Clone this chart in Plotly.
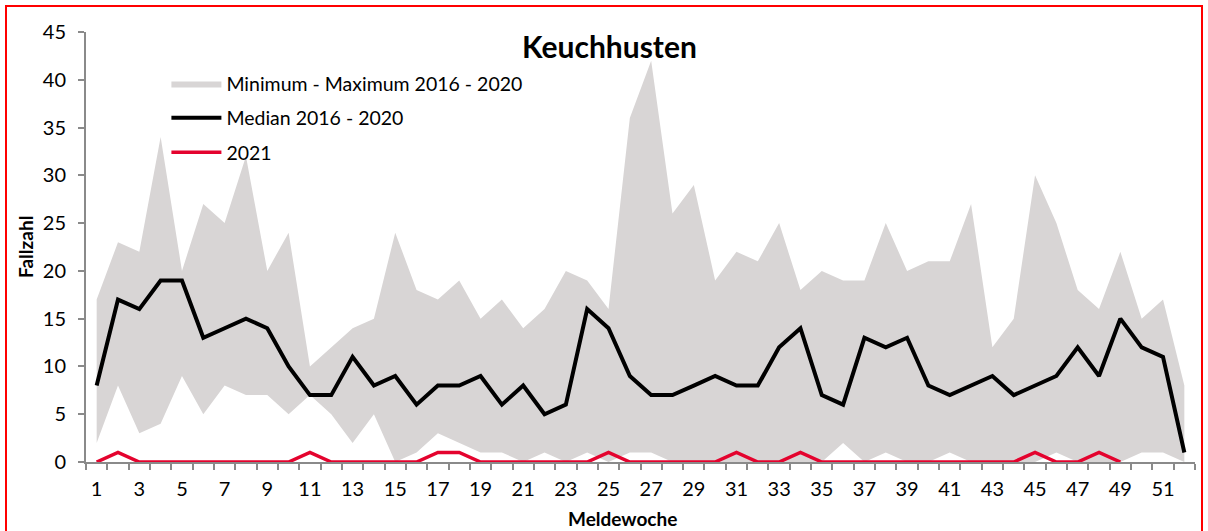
import plotly.graph_objects as go

weeks = list(range(1, 53))
min_2016_2020 = [2, 8, 3, 4, 9, 5, 8, 7, 7, 5,
                 7, 5, 2, 5, 0, 1, 3, 2, 1, 1,
                 0, 1, 0, 1, 0, 1, 1, 0, 0, 0,
                 0, 0, 0, 0, 0, 2, 0, 1, 0, 0,
                 1, 0, 0, 0, 0, 1, 0, 0, 0, 1,
                 1, 0]
max_2016_2020 = [17, 23, 22, 34, 20, 27, 25, 32, 20, 24,
                 10, 12, 14, 15, 24, 18, 17, 19, 15, 17,
                 14, 16, 20, 19, 16, 36, 42, 26, 29, 19,
                 22, 21, 25, 18, 20, 19, 19, 25, 20, 21,
                 21, 27, 12, 15, 30, 25, 18, 16, 22, 15,
                 17, 8]
median_2016_2020 = [8, 17, 16, 19, 19, 13, 14, 15, 14, 10,
                    7, 7, 11, 8, 9, 6, 8, 8, 9, 6,
                    8, 5, 6, 16, 14, 9, 7, 7, 8, 9,
                    8, 8, 12, 14, 7, 6, 13, 12, 13, 8,
                    7, 8, 9, 7, 8, 9, 12, 9, 15, 12,
                    11, 1]
weeks_2021 = list(range(1, 50))
cases_2021 = [0, 1, 0, 0, 0, 0, 0, 0, 0, 0,
              1, 0, 0, 0, 0, 0, 1, 1, 0, 0,
              0, 0, 0, 0, 1, 0, 0, 0, 0, 0,
              1, 0, 0, 1, 0, 0, 0, 0, 0, 0,
              0, 0, 0, 0, 1, 0, 0, 1, 0]
x_tick_labels = [str(w) for w in range(1, 53, 2)]
y_ticks = list(range(0, 50, 5))

FONT = "Lato"
BAND = "#d8d5d5"

fig = go.Figure()
fig.add_trace(go.Scatter(x=weeks, y=min_2016_2020, mode="lines",
                         line=dict(width=0, color=BAND), showlegend=False,
                         hoverinfo="skip", legendgroup="band"))
fig.add_trace(go.Scatter(x=weeks, y=max_2016_2020, mode="lines",
                         line=dict(width=0, color=BAND), fill="tonexty",
                         fillcolor=BAND, name="Minimum - Maximum 2016 - 2020",
                         legendgroup="band"))
fig.add_trace(go.Scatter(x=weeks, y=median_2016_2020, mode="lines",
                         line=dict(width=4, color="black"),
                         name="Median 2016 - 2020", legendgroup="median"))
fig.add_trace(go.Scatter(x=weeks_2021, y=cases_2021, mode="lines",
                         line=dict(width=3.5, color="#e4032e"),
                         name="2021", legendgroup="y2021"))

axis_col = "#8a8a8a"
fig.update_layout(
    width=1208, height=531,
    margin=dict(l=86, r=13, t=32, b=69),
    paper_bgcolor="white", plot_bgcolor="white",
    font=dict(family=FONT, size=20, color="black"),
    title=dict(text="<b>Keuchhusten</b>", font=dict(family=FONT, size=30, color="black"),
               x=0.472, xref="paper", xanchor="center",
               y=1 - 47 / 531, yref="container", yanchor="middle"),
    showlegend=True,
    legend=dict(x=0.0725, y=0.925, xanchor="left", yanchor="top",
                bgcolor="rgba(0,0,0,0)", font=dict(family=FONT, size=19.5),
                tracegroupgap=6, itemwidth=50, traceorder="grouped"),
    xaxis=dict(range=[0.5, 52.5], tickmode="array",
               tickvals=list(range(1, 53, 2)), ticktext=x_tick_labels,
               ticks="", showgrid=False, zeroline=False,
               showline=True, linecolor=axis_col, linewidth=2,
               tickfont=dict(size=20), ticklabelstandoff=8, automargin=False,
               minor=dict(ticks="outside", ticklen=6, tickcolor=axis_col,
                          tickwidth=1.5, tickmode="linear", tick0=0.5, dtick=1,
                          showgrid=False)),
    yaxis=dict(range=[0, 45], tickmode="array", tickvals=y_ticks,
               ticks="outside", ticklen=6, tickcolor=axis_col, tickwidth=1.5,
               showgrid=False, zeroline=False, automargin=False,
               showline=True, linecolor=axis_col, linewidth=2,
               tickfont=dict(size=20), ticklabelstandoff=8),
    annotations=[
        dict(text="<b>Meldewoche</b>", xref="paper", yref="paper",
             x=(622.5 - 86) / 1109, y=(462 - 518) / 430,
             xanchor="center", yanchor="middle", showarrow=False,
             font=dict(size=19)),
        dict(text="<b>Fallzahl</b>", xref="paper", yref="paper",
             x=(25 - 86) / 1109, y=(462 - 247) / 430, textangle=-90,
             xanchor="center", yanchor="middle", showarrow=False,
             font=dict(size=19)),
    ],
    shapes=[dict(type="rect", xref="paper", yref="paper",
                 x0=(6 - 86) / 1109, x1=(1202 - 86) / 1109,
                 y0=(462 - 540) / 430, y1=(462 - 6) / 430,
                 line=dict(color="#ff0000", width=2), fillcolor="rgba(0,0,0,0)",
                 layer="above")],
)

fig.write_html("out.html", config={"displayModeBar": False},
               post_script="document.body.style.margin='0';")
